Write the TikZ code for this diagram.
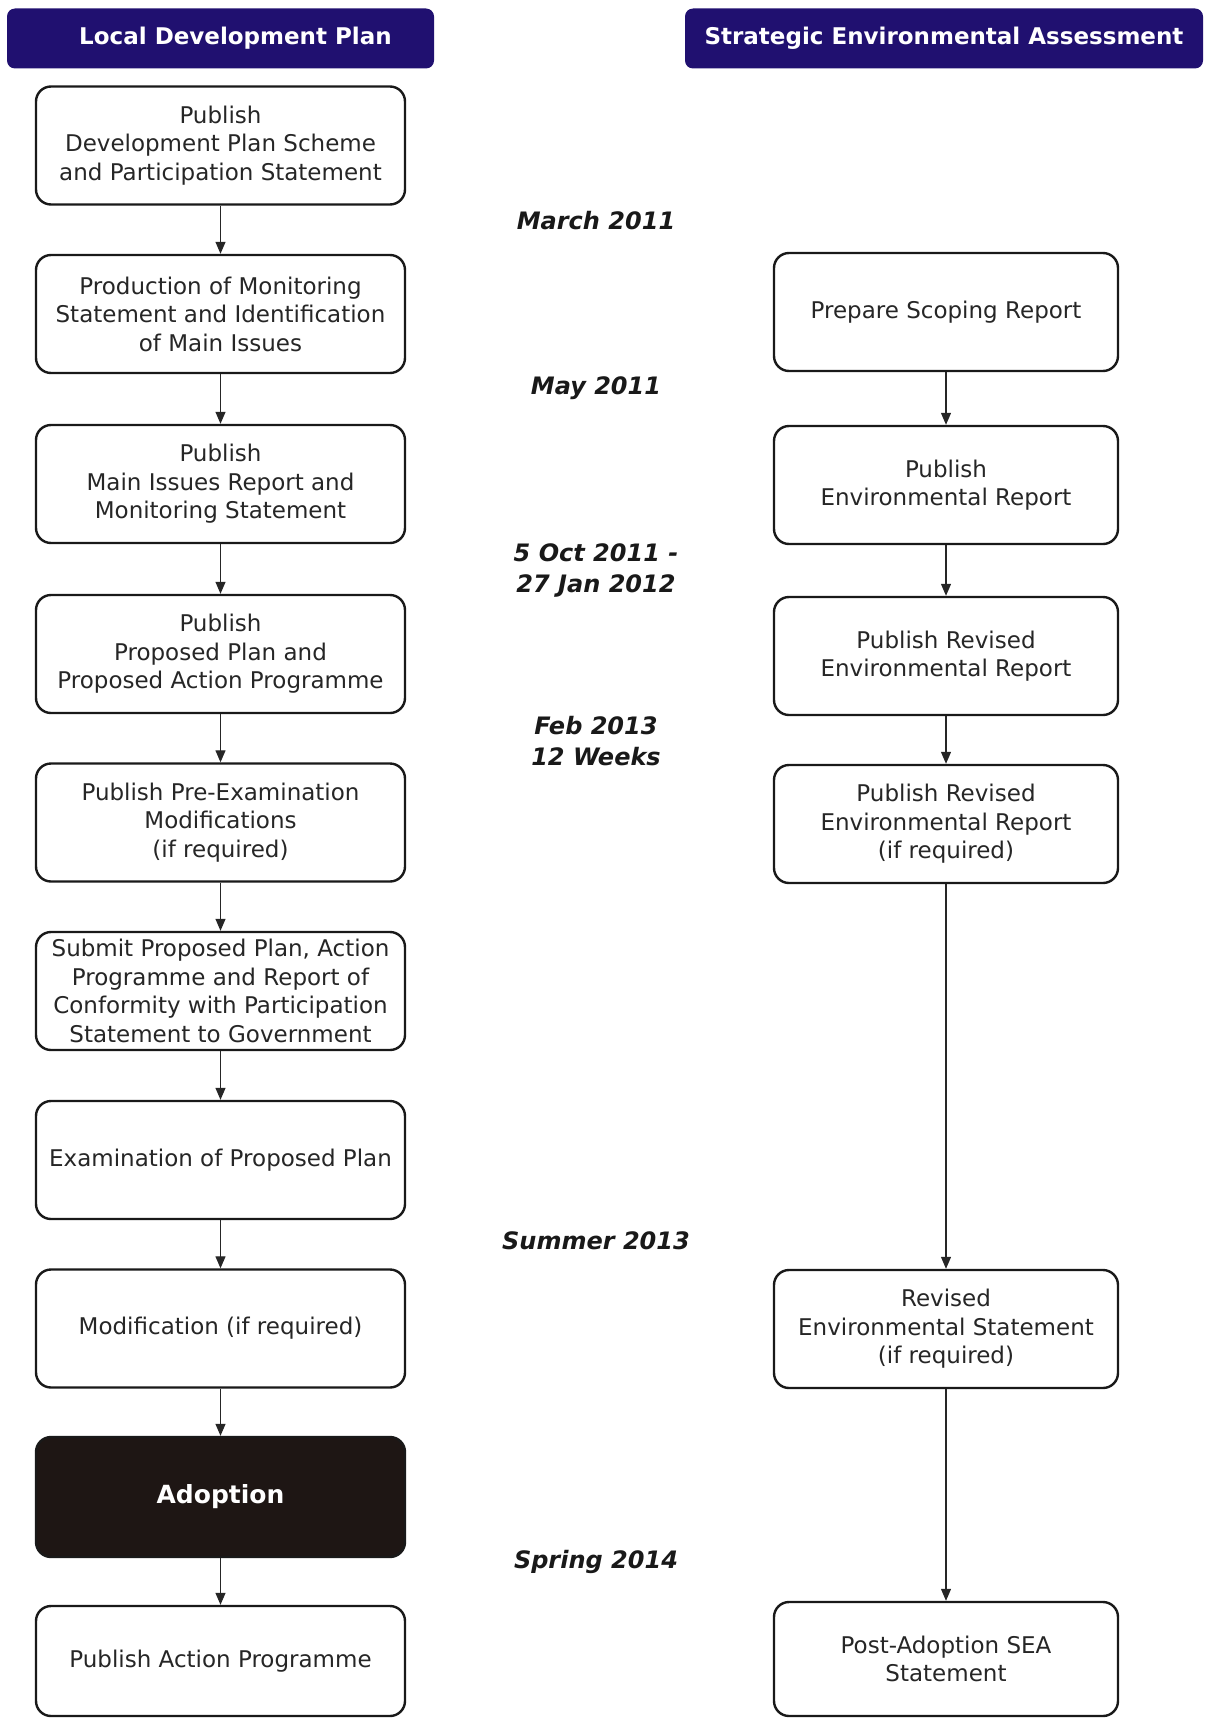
\documentclass[tikz,border=0pt]{standalone}
\usepackage{fontspec}
\setmainfont{DejaVu Sans}
\usepackage{xcolor}
\usepackage{tikz}
\usetikzlibrary{arrows.meta}

\definecolor{headblue}{RGB}{32,16,112}
\definecolor{adoptfill}{RGB}{30,22,20}

\begin{document}
\begin{tikzpicture}[x=1pt,y=-1pt,
    stage/.style={draw=black!90, line width=2.4pt, rounded corners=15pt, fill=white,
      align=center, inner sep=2pt, minimum height=118pt, text=black!85,
      font=\fontsize{23}{28.5}\selectfont},
    leftstage/.style={stage, minimum width=369pt},
    rightstage/.style={stage, minimum width=344pt},
    header/.style={fill=headblue, rounded corners=8pt, text=white, minimum height=60pt,
      font=\bfseries\fontsize{23}{28}\selectfont},
    when/.style={align=center, text=black!90, font=\bfseries\itshape\fontsize{24}{31}\selectfont},
    flow/.style={-{Triangle[length=12pt,width=10pt]}, line width=1.2pt, black!85}]
	\useasboundingbox (0,0) rectangle (1207,1718);

	% column headings
	\node[header, minimum width=427pt] (ldp) at (220.5,38.5) {\hspace*{30pt}Local Development Plan};
	\node[header, minimum width=518pt] (sea) at (944,38.5) {Strategic Environmental Assessment};

	% local development plan
	\node[leftstage] (scheme) at (220.5,145.5) {Publish\\Development Plan Scheme\\and Participation Statement};
	\node[leftstage] (monitor) at (220.5,314) {Production of Monitoring\\Statement and Identification\\of Main Issues};
	\node[leftstage] (issues) at (220.5,484) {Publish\\Main Issues Report and\\Monitoring Statement};
	\node[leftstage] (proposed) at (220.5,654) {Publish\\Proposed Plan and\\Proposed Action Programme};
	\node[leftstage] (premod) at (220.5,822.5) {Publish Pre-Examination\\Modifications\\(if required)};
	\node[leftstage] (submit) at (220.5,991) {Submit Proposed Plan, Action\\Programme and Report of\\Conformity with Participation\\Statement to Government};
	\node[leftstage] (exam) at (220.5,1160) {Examination of Proposed Plan};
	\node[leftstage] (modif) at (220.5,1328.5) {Modification (if required)};
	\node[leftstage, fill=adoptfill, minimum height=120pt, text=white,
	  font=\bfseries\fontsize{25}{30}\selectfont] (adopt) at (220.5,1497) {Adoption};
	\node[leftstage, minimum height=110pt] (action) at (220.5,1661) {Publish Action Programme};

	\draw[flow] (scheme.south) -- (monitor.north);
	\draw[flow] (monitor.south) -- (issues.north);
	\draw[flow] (issues.south) -- (proposed.north);
	\draw[flow] (proposed.south) -- (premod.north);
	\draw[flow] (premod.south) -- (submit.north);
	\draw[flow] (submit.south) -- (exam.north);
	\draw[flow] (exam.south) -- (modif.north);
	\draw[flow] (modif.south) -- (adopt.north);
	\draw[flow] (adopt.south) -- (action.north);

	% strategic environmental assessment
	\node[rightstage] (scoping) at (946,312) {Prepare Scoping Report};
	\node[rightstage] (envrep) at (946,485) {Publish\\Environmental Report};
	\node[rightstage] (revrep) at (946,656) {Publish Revised\\Environmental Report};
	\node[rightstage] (revrepb) at (946,824) {Publish Revised\\Environmental Report\\(if required)};
	\node[rightstage] (revstat) at (946,1329) {Revised\\Environmental Statement\\(if required)};
	\node[rightstage, minimum height=114pt] (postsea) at (946,1659) {Post-Adoption SEA\\Statement};

	\draw[flow] (scoping.south) -- (envrep.north);
	\draw[flow] (envrep.south) -- (revrep.north);
	\draw[flow] (revrep.south) -- (revrepb.north);
	\draw[flow] (revrepb.south) -- (revstat.north);
	\draw[flow] (revstat.south) -- (postsea.north);

	% dates
	\node[when] (march) at (596,221) {March 2011};
	\node[when] (may) at (596,388) {May 2011};
	\node[when] (oct) at (596,570) {5 Oct 2011 -\\27 Jan 2012};
	\node[when] (feb) at (596,741) {Feb 2013\\12 Weeks};
	\node[when] (summer) at (596,1241) {Summer 2013};
	\node[when] (spring) at (596,1562) {Spring 2014};
\end{tikzpicture}
\end{document}
